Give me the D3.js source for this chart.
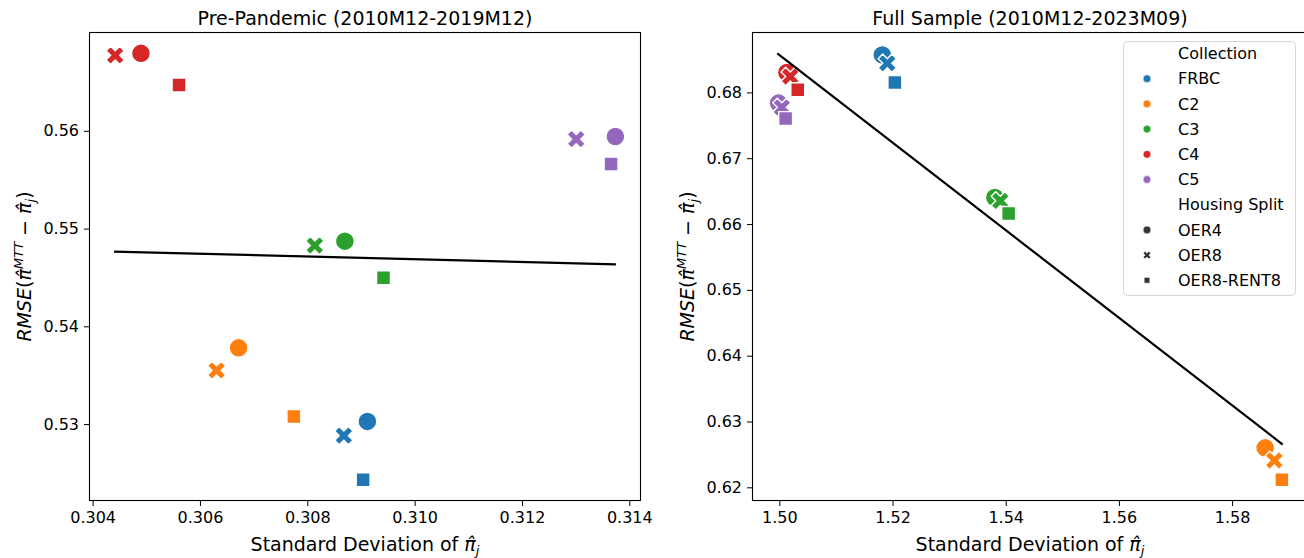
<!DOCTYPE html>
<html><head><meta charset="utf-8">
<script src="https://cdn.jsdelivr.net/npm/d3@7/dist/d3.min.js"></script>
<style>body{margin:0;background:#fff} svg text{font-family:"DejaVu Sans",sans-serif;fill:#000}</style>
</head><body><svg id="c" width="1304" height="558"></svg>
<script>
const collections = ["FRBC", "C2", "C3", "C4", "C5"];
const colors = ["#1f77b4", "#ff7f0e", "#2ca02c", "#d62728", "#9467bd"];
const splits = ["OER4", "OER8", "OER8-RENT8"];

// Pre-Pandemic: [OER4, OER8, OER8-RENT8] per collection
const preStd = [
  [0.30912, 0.30868, 0.30904],
  [0.30672, 0.30631, 0.30775],
  [0.30870, 0.30814, 0.30942],
  [0.30490, 0.30442, 0.30561],
  [0.31374, 0.31301, 0.31366]
];
const preRmse = [
  [0.53027, 0.52881, 0.52431],
  [0.53780, 0.53549, 0.53078],
  [0.54871, 0.54827, 0.54498],
  [0.56793, 0.56772, 0.56469],
  [0.55942, 0.55915, 0.55660]
];
const preFitX = [0.30440, 0.31375];
const preFitY = [0.54765, 0.54633];

// Full sample
const fullStd = [
  [1.51819, 1.51907, 1.52041],
  [1.58584, 1.58747, 1.58880],
  [1.53808, 1.53904, 1.54052],
  [1.50133, 1.50192, 1.50325],
  [1.49985, 1.50044, 1.50111]
];
const fullRmse = [
  [0.68570, 0.68443, 0.68151],
  [0.62600, 0.62408, 0.62116],
  [0.66403, 0.66353, 0.66161],
  [0.68302, 0.68242, 0.68041],
  [0.67838, 0.67773, 0.67603]
];
const fullFitX = [1.49963, 1.58895];
const fullFitY = [0.68594, 0.62650];

const preXTicks = [0.304, 0.306, 0.308, 0.310, 0.312, 0.314];
const preYTicks = [0.53, 0.54, 0.55, 0.56];
const fullXTicks = [1.50, 1.52, 1.54, 1.56, 1.58];
const fullYTicks = [0.62, 0.63, 0.64, 0.65, 0.66, 0.67, 0.68];

const svg = d3.select("#c");

function padded(vals) {
  const [a, b] = d3.extent(vals);
  const m = (b - a) * 0.05;
  return [a - m, b + m];
}

function xPath(s) {
  const v = [[-1,-2],[0,-1],[1,-2],[2,-1],[1,0],[2,1],[1,2],[0,1],[-1,2],[-2,1],[-1,0],[-2,-1]];
  return "M" + v.map(p => [p[0] * s / 4, p[1] * s / 4].join(",")).join("L") + "Z";
}
function markerPath(kind, size) {
  if (kind === 0) { const r = size / 2; return `M${r},0A${r},${r} 0 1,1 ${-r},0A${r},${r} 0 1,1 ${r},0Z`; }
  if (kind === 1) return xPath(size * 0.97);
  const h = size * 0.735 / 2; return `M${-h},${-h}H${h}V${h}H${-h}Z`;
}

function ylabel(g, x, y) {
  const t = g.append("text").attr("transform", `translate(${x},${y}) rotate(-90)`)
    .attr("text-anchor", "middle").style("font-size", "19px");
  t.append("tspan").style("font-style", "italic").text("RMSE");
  t.append("tspan").text("(");
  t.append("tspan").style("font-style", "italic").text("\u03C0\u0302");
  t.append("tspan").style("font-style", "italic").style("font-size", "13px").attr("dy", -8).text("MTT");
  t.append("tspan").attr("dy", 8).text(" \u2212 ");
  t.append("tspan").style("font-style", "italic").text("\u03C0\u0302");
  t.append("tspan").style("font-style", "italic").style("font-size", "13px").attr("dy", 4).text("j");
  t.append("tspan").attr("dy", -4).text(")");
}
function xlabel(g, x, y) {
  const t = g.append("text").attr("x", x).attr("y", y).attr("text-anchor", "middle").style("font-size", "19px");
  t.append("tspan").text("Standard Deviation of ");
  t.append("tspan").style("font-style", "italic").text("\u03C0\u0302");
  t.append("tspan").style("font-style", "italic").style("font-size", "13px").attr("dy", 4).text("j");
}

function panel(cfg) {
  const allX = cfg.std.flat().concat(cfg.fitX);
  const allY = cfg.rmse.flat().concat(cfg.fitY);
  const x = d3.scaleLinear().domain(padded(allX)).range([cfg.x0, cfg.x1]);
  const y = d3.scaleLinear().domain(padded(allY)).range([501, 32]);
  const g = svg.append("g");

  const xa = g.append("g").attr("transform", "translate(0,501)")
    .call(d3.axisBottom(x).tickValues(cfg.xTicks).tickFormat(d3.format(cfg.xFmt)).tickSize(5).tickPadding(5.5));
  const ya = g.append("g").attr("transform", `translate(${cfg.x0},0)`)
    .call(d3.axisLeft(y).tickValues(cfg.yTicks).tickFormat(d3.format(".2f")).tickSize(5).tickPadding(5));
  [xa, ya].forEach(a => {
    a.select(".domain").remove();
    a.selectAll("text").style("font-size", "16px").attr("fill", "#000").style("font-family", "DejaVu Sans");
    a.selectAll("line").attr("stroke", "#000").attr("stroke-width", 1);
  });

  // points
  cfg.std.forEach((row, ci) => {
    row.forEach((sx, si) => {
      g.append("path").attr("d", markerPath(si, 18.9))
        .attr("transform", `translate(${x(sx)},${y(cfg.rmse[ci][si])})`)
        .attr("fill", colors[ci]).attr("stroke", "#fff").attr("stroke-width", 1.4);
    });
  });
  // fit line
  g.append("line").attr("x1", x(cfg.fitX[0])).attr("y1", y(cfg.fitY[0]))
    .attr("x2", x(cfg.fitX[1])).attr("y2", y(cfg.fitY[1]))
    .attr("stroke", "#000").attr("stroke-width", 2.2);

  // frame
  g.append("rect").attr("x", cfg.x0 + 0.5).attr("y", 32.5).attr("width", cfg.x1 - cfg.x0 - 1).attr("height", 468)
    .attr("fill", "none").attr("stroke", "#000").attr("stroke-width", 1.1);

  g.append("text").attr("x", (cfg.x0 + Math.min(cfg.x1, 1304 + (cfg.x1 - 1304))) / 2).attr("y", 25)
    .attr("text-anchor", "middle").style("font-size", "19px").text(cfg.title);
  xlabel(g, (cfg.x0 + cfg.x1) / 2, 551);
  ylabel(g, cfg.ylx, 266.5);
  return g;
}

panel({ std: preStd, rmse: preRmse, fitX: preFitX, fitY: preFitY, x0: 89, x1: 641,
  xTicks: preXTicks, yTicks: preYTicks, xFmt: ".3f", ylx: 31, title: "Pre-Pandemic (2010M12-2019M12)" });
const right = panel({ std: fullStd, rmse: fullRmse, fitX: fullFitX, fitY: fullFitY, x0: 752, x1: 1308,
  xTicks: fullXTicks, yTicks: fullYTicks, xFmt: ".2f", ylx: 694, title: "Full Sample (2010M12-2023M09)" });

// legend
const lg = svg.append("g");
lg.append("rect").attr("x", 1123.5).attr("y", 41.5).attr("width", 172).attr("height", 254).attr("rx", 4)
  .attr("fill", "#fff").attr("fill-opacity", 0.8).attr("stroke", "#d6d6d6").attr("stroke-width", 1);
const entries = [{ label: "Collection" }]
  .concat(collections.map((c, i) => ({ label: c, color: colors[i], kind: 0 })))
  .concat([{ label: "Housing Split" }])
  .concat(splits.map((s, i) => ({ label: s, color: "#333", kind: i })));
entries.forEach((e, i) => {
  const cy = 53.5 + i * 25.2;
  if (e.color) lg.append("path").attr("d", markerPath(e.kind, 7.8)).attr("transform", `translate(1147,${cy})`)
    .attr("fill", e.color).attr("stroke", "#fff").attr("stroke-width", 0.6);
  lg.append("text").attr("x", 1178).attr("y", cy).attr("dy", "0.36em").style("font-size", "16px").text(e.label);
});
</script></body></html>
